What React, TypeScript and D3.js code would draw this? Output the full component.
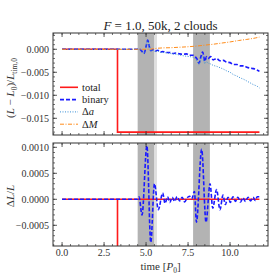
import React from 'react';
import * as d3 from 'd3';

// ---- data ----
const totalT = [0, 3.3, 3.3, 11.75];
const totalV = [0, 0, -0.018, -0.018];

const binT = [0, 4.45, 4.6, 4.72, 4.88, 5.0, 5.1, 5.2, 5.28, 5.4, 5.55, 5.7, 5.85, 6.0, 6.2, 6.4, 6.6, 6.8, 7.0, 7.2, 7.4, 7.6, 7.8, 7.95, 8.05, 8.15, 8.25, 8.37, 8.5, 8.6, 8.7, 8.85, 9.0, 9.2, 9.4, 9.6, 9.8, 10.0, 10.2, 10.4, 10.6, 10.8, 11.0, 11.2, 11.4, 11.6, 11.75];
const binV = [0, 0, 0.0001, -0.0003, -0.0009, 0.0006, 0.002, 0.0005, -0.0003, -0.0001, -0.0004, -0.0002, -0.0006, -0.0005, -0.0007, -0.0007, -0.0009, -0.0008, -0.001, -0.0011, -0.001, -0.0013, -0.0013, -0.0017, -0.0022, -0.003, -0.0018, -0.0006, -0.0026, -0.0016, -0.002, -0.0016, -0.0023, -0.002, -0.0025, -0.0024, -0.0028, -0.0029, -0.0033, -0.0033, -0.0036, -0.0036, -0.0039, -0.0041, -0.0042, -0.0045, -0.0048];

const daT = [0, 4.45, 4.6, 4.72, 4.88, 5.0, 5.1, 5.2, 5.28, 5.4, 5.55, 5.7, 5.85, 6.0, 6.4, 6.8, 7.2, 7.6, 7.8, 7.95, 8.05, 8.15, 8.25, 8.37, 8.5, 8.6, 8.7, 8.85, 9.0, 9.2, 9.4, 9.6, 9.8, 10.0, 10.2, 10.4, 10.6, 10.8, 11.0, 11.2, 11.4, 11.6, 11.75];
const daV = [0, 0, 0.0001, -0.0003, -0.0009, 0.0006, 0.002, 0.0005, -0.0004, -0.0002, -0.0005, -0.0004, -0.0007, -0.0007, -0.0009, -0.0011, -0.0014, -0.0016, -0.0017, -0.0021, -0.0026, -0.0034, -0.0024, -0.0014, -0.0031, -0.0027, -0.003, -0.0032, -0.0035, -0.0037, -0.004, -0.0043, -0.0047, -0.005, -0.0055, -0.0058, -0.0062, -0.0065, -0.0069, -0.0073, -0.0077, -0.008, -0.0084];

const dmT = [0, 5.2, 5.6, 6.0, 6.5, 7.0, 7.5, 8.0, 8.5, 9.0, 9.5, 10.0, 10.5, 11.0, 11.5, 11.75];
const dmV = [0, 0, 0.0002, 0.0003, 0.00035, 0.00045, 0.00055, 0.0007, 0.0009, 0.0011, 0.00135, 0.0016, 0.0019, 0.00215, 0.00245, 0.00265];

const relTotT = [0, 3.3, 3.3, 3.3, 11.75];
const relTotV = [0, 0, -0.002, 0, 0];

const relBinT = [0, 4.5, 4.58, 4.76, 5.05, 5.28, 5.5, 5.73, 5.99, 6.13, 6.28, 6.42, 6.56, 6.7, 6.85, 7.0, 7.15, 7.3, 7.45, 7.6, 7.72, 7.88, 8.0, 8.31, 8.57, 8.81, 8.97, 9.2, 9.4, 9.58, 9.72, 9.88, 10.02, 10.17, 10.32, 10.47, 10.62, 10.77, 10.92, 11.07, 11.22, 11.37, 11.5, 11.62, 11.75];
const relBinV = [0, 0, 0.00005, -0.0003, 0.00103, -0.00083, 0.0003, -0.0002, 0.00012, -0.00008, 0.00005, -0.00006, 0.00004, -0.00004, 0.00005, -0.00003, 0.00004, -0.00005, 0.00003, 0.00006, 0.00001, 0.00015, -0.00044, 0.00096, -0.00044, 0.0003, -0.00017, 0.00019, -0.0002, 0.00008, -0.0001, 0.00004, -0.00006, 0.00005, -0.00004, 0.00004, -0.00005, 0.00003, -0.00004, 0.00004, -0.00003, 0.00004, -0.00002, 0.00005, 0.00005];

const bands = [[4.5, 5.5], [7.8, 8.8]];
const lightBands = [[5.5, 5.65]];

const xMajor = [0, 2.5, 5, 7.5, 10];
const topMajor = [0, -0.005, -0.01, -0.015];
const botMajor = [0.001, 0.0005, 0, -0.0005];

const FONT = '"Liberation Serif", "DejaVu Serif", serif';

const x = d3.scaleLinear().domain([-0.54, 12.26]).range([53, 268]);
const yTop = d3.scaleLinear().domain([-0.01863, 0.00354]).range([135, 33]);
const yBot = d3.scaleLinear().domain([-0.000898, 0.001083]).range([246, 143]);

const xMinor = d3.range(-0.5, 12.01, 0.5);
const topMinor = d3.range(-18, 3.5, 1).map(v => v / 1000);
const botMinor = d3.range(-8, 10.5, 1).map(v => v / 10000);

function pathOf(ts: number[], vs: number[], y: d3.ScaleLinear<number, number>, curve: any) {
  const pts = ts.map((t, i) => [t, vs[i]] as [number, number]);
  return d3.line<[number, number]>().x(d => x(d[0])).y(d => y(d[1])).curve(curve)(pts) || '';
}

const Panel: React.FC<{ y: d3.ScaleLinear<number, number>; id: string; major: number[]; minor: number[]; fmt: (n: number) => string; xLabels: boolean; children: React.ReactNode }> = ({ y, id, major, minor, fmt, xLabels, children }) => {
  const [x0, x1] = x.range();
  const [y1, y0] = y.range();
  return (
    <g>
      <defs>
        <clipPath id={id}><rect x={x0} y={y0} width={x1 - x0} height={y1 - y0} /></clipPath>
      </defs>
      <g clipPath={`url(#${id})`}>
        {bands.map((b, i) => <rect key={i} x={x(b[0])} y={y0} width={x(b[1]) - x(b[0])} height={y1 - y0} fill="#b3b3b3" />)}
        {lightBands.map((b, i) => <rect key={'l' + i} x={x(b[0])} y={y0} width={x(b[1]) - x(b[0])} height={y1 - y0} fill="#e0e0e0" />)}
        {children}
      </g>
      {/* ticks, inward on all sides */}
      {xMinor.map(t => <g key={'xm' + t}>
        <line x1={x(t)} x2={x(t)} y1={y1} y2={y1 - 2} stroke="#333" strokeWidth={0.7} />
        <line x1={x(t)} x2={x(t)} y1={y0} y2={y0 + 2} stroke="#333" strokeWidth={0.7} />
      </g>)}
      {xMajor.map(t => <g key={'xM' + t}>
        <line x1={x(t)} x2={x(t)} y1={y1} y2={y1 - 4} stroke="#333" strokeWidth={0.8} />
        <line x1={x(t)} x2={x(t)} y1={y0} y2={y0 + 4} stroke="#333" strokeWidth={0.8} />
        {xLabels && <text x={x(t)} y={y1 + 10} textAnchor="middle" fontSize={10} fill="#333" fontFamily={FONT}>{d3.format('.1f')(t)}</text>}
      </g>)}
      {minor.map(v => <g key={'ym' + v}>
        <line x1={x0} x2={x0 + 2} y1={y(v)} y2={y(v)} stroke="#333" strokeWidth={0.7} />
        <line x1={x1} x2={x1 - 2} y1={y(v)} y2={y(v)} stroke="#333" strokeWidth={0.7} />
      </g>)}
      {major.map(v => <g key={'yM' + v}>
        <line x1={x0} x2={x0 + 4} y1={y(v)} y2={y(v)} stroke="#333" strokeWidth={0.8} />
        <line x1={x1} x2={x1 - 4} y1={y(v)} y2={y(v)} stroke="#333" strokeWidth={0.8} />
        <text x={x0 - 4} y={y(v) + 3.5} textAnchor="end" fontSize={10} fill="#333" fontFamily={FONT}>{fmt(v)}</text>
      </g>)}
      <rect x={x0} y={y0} width={x1 - x0} height={y1 - y0} fill="none" stroke="#333" strokeWidth={1} />
    </g>
  );
};

const legend = [
  { label: 'total', color: '#ff1a1a', dash: undefined as string | undefined, w: 1.6 },
  { label: 'binary', color: '#1a1aff', dash: '4,2', w: 1.6 },
  { label: 'Δa', color: '#3a8fd6', dash: '1,1.5', w: 1 },
  { label: 'ΔM', color: '#ff8c1a', dash: '4,1.5,1,1.5', w: 1 },
];

export default function App() {
  return (
    <svg width={277} height={277} style={{ position: 'absolute', left: 0, top: 0, background: '#fff' }} fontFamily={FONT}>
      <text x={160.5} y={30} textAnchor="middle" fontSize={13} fill="#222">
        <tspan fontStyle="italic">F</tspan> = 1.0, 50k, 2 clouds
      </text>

      <Panel y={yTop} id="clipTop" major={topMajor} minor={topMinor} fmt={d3.format('.3f')} xLabels={false}>
        <path d={pathOf(totalT, totalV, yTop, d3.curveLinear)} fill="none" stroke="#ff1a1a" strokeWidth={1.6} />
        <path d={pathOf(binT, binV, yTop, d3.curveMonotoneX)} fill="none" stroke="#1a1aff" strokeWidth={1.6} strokeDasharray="4,2" />
        <path d={pathOf(daT, daV, yTop, d3.curveMonotoneX)} fill="none" stroke="#3a8fd6" strokeWidth={1} strokeDasharray="1,1.5" />
        <path d={pathOf(dmT, dmV, yTop, d3.curveMonotoneX)} fill="none" stroke="#ff8c1a" strokeWidth={1} strokeDasharray="4,1.5,1,1.5" />
      </Panel>

      <Panel y={yBot} id="clipBot" major={botMajor} minor={botMinor} fmt={d3.format('.4f')} xLabels={true}>
        <path d={pathOf(relTotT, relTotV, yBot, d3.curveLinear)} fill="none" stroke="#ff1a1a" strokeWidth={1.6} />
        <path d={pathOf(relBinT, relBinV, yBot, d3.curveMonotoneX)} fill="none" stroke="#1a1aff" strokeWidth={1.6} strokeDasharray="4,2" />
      </Panel>

      {legend.map((d, i) => (
        <g key={d.label} transform={`translate(0, ${87.3 + i * 12.3})`}>
          <line x1={60} x2={78} y1={0} y2={0} stroke={d.color} strokeWidth={d.w} strokeDasharray={d.dash} />
          <text x={82} y={3.5} fontSize={10.5} fill="#222">
            {d.label.startsWith('Δ') ? <>Δ<tspan fontStyle="italic">{d.label.slice(1)}</tspan></> : d.label}
          </text>
        </g>
      ))}

      <text transform="translate(14, 88) rotate(-90)" textAnchor="middle" fontSize={11} fill="#333">
        (<tspan fontStyle="italic">L</tspan> − <tspan fontStyle="italic">L</tspan><tspan fontSize={7.5} dy={2.5}>0</tspan><tspan dy={-2.5}>)/</tspan><tspan fontStyle="italic">L</tspan><tspan fontSize={7.5} dy={2.5}>tim,0</tspan>
      </text>
      <text transform="translate(14, 196) rotate(-90)" textAnchor="middle" fontSize={11} fill="#333">
        Δ<tspan fontStyle="italic">L</tspan>/<tspan fontStyle="italic">L</tspan>
      </text>
      <text x={160.5} y={270} textAnchor="middle" fontSize={11} fill="#333">
        time [<tspan fontStyle="italic">P</tspan><tspan fontSize={7.5} dy={2.5}>0</tspan><tspan dy={-2.5}>]</tspan>
      </text>
    </svg>
  );
}
